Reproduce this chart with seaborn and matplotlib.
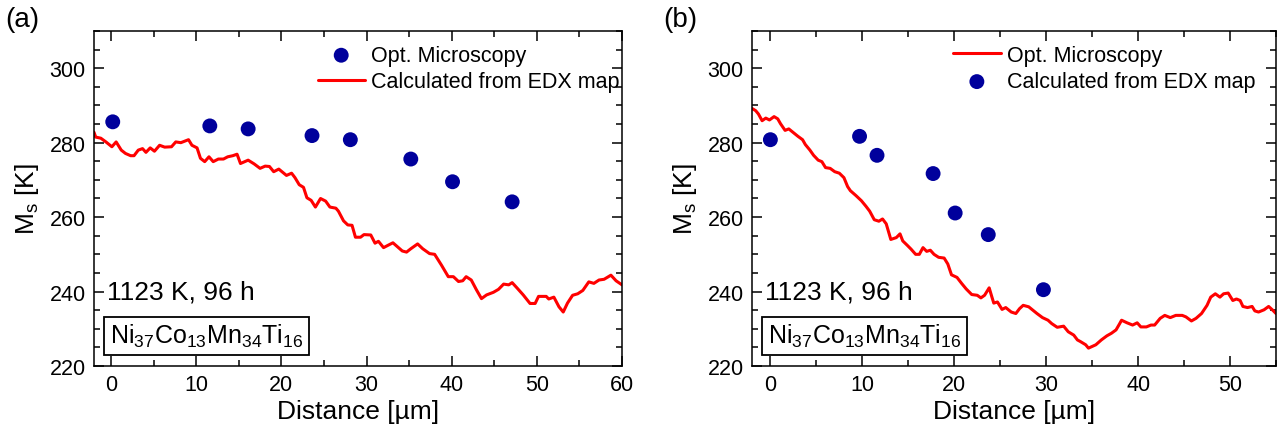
import numpy as np
import pandas as pd
import seaborn as sns
import matplotlib.pyplot as plt
from matplotlib.ticker import MultipleLocator

# Panel (a) - Ni37Co13Mn34Ti16, 1123 K 96 h
a_opt_dist = [0.2, 11.6, 16.1, 23.6, 28.1, 35.2, 40.1, 47.1]
a_opt_ms = [285.6, 284.5, 283.7, 281.9, 280.8, 275.6, 269.5, 264.1]

a_edx_dist = [-2.0, -1.8, -1.2, -0.6, 0.1, 0.6, 1.2, 1.7, 2.3, 2.7,
              3.2, 3.7, 4.1, 4.6, 5.1, 5.7, 6.3, 7.1, 7.6, 8.2,
              9.1, 9.5, 10.1, 10.5, 11.0, 11.5, 12.0, 12.6, 13.2, 13.7,
              14.3, 14.8, 15.2, 15.5, 16.1, 16.8, 17.5, 18.1, 18.6, 19.1,
              19.7, 20.6, 21.2, 21.6, 22.1, 22.6, 23.0, 23.5, 24.0, 24.6,
              25.2, 25.7, 26.4, 26.7, 27.3, 27.8, 28.3, 28.7, 29.3, 29.7,
              30.5, 31.0, 31.4, 32.0, 32.5, 33.1, 33.7, 34.2, 34.7, 35.2,
              36.0, 36.6, 37.4, 38.0, 38.8, 39.6, 40.2, 40.8, 41.3, 41.7,
              42.3, 42.9, 43.5, 44.1, 44.9, 45.5, 46.1, 46.7, 47.1, 47.7,
              48.4, 49.2, 49.8, 50.2, 51.1, 51.4, 52.0, 52.6, 53.1, 53.6,
              54.2, 54.8, 55.4, 56.1, 56.7, 57.3, 57.9, 58.7, 59.3, 60.0]
a_edx_ms = [282.8, 281.5, 281.2, 280.2, 278.9, 280.2, 278.0, 277.1, 276.5, 276.5,
            278.0, 278.4, 277.4, 278.6, 277.7, 279.3, 278.8, 278.9, 280.2, 280.0,
            280.8, 279.3, 278.6, 275.8, 274.9, 276.2, 274.9, 275.6, 275.6, 276.2,
            276.5, 276.9, 274.4, 274.7, 275.3, 274.3, 273.1, 273.7, 273.6, 272.2,
            272.9, 271.2, 271.8, 270.6, 268.7, 268.0, 265.2, 264.5, 262.7, 265.0,
            264.3, 262.7, 262.4, 261.6, 259.0, 257.9, 257.8, 254.6, 254.6, 255.3,
            255.2, 253.0, 253.5, 251.8, 252.4, 253.1, 251.9, 250.9, 250.6, 251.5,
            252.8, 251.5, 250.2, 250.0, 247.1, 244.0, 244.0, 242.7, 242.9, 244.0,
            243.1, 240.5, 238.1, 239.1, 239.8, 240.6, 242.0, 241.8, 242.4, 240.9,
            239.1, 236.8, 236.8, 238.7, 238.7, 238.0, 238.5, 235.9, 234.5, 236.9,
            239.0, 239.4, 240.3, 242.6, 242.2, 243.1, 243.3, 244.4, 242.9, 241.8]

# Panel (b)
b_pts_dist = [0.0, 9.7, 11.6, 17.7, 20.1, 23.7, 29.7]
b_pts_ms = [280.8, 281.7, 276.6, 271.7, 261.1, 255.3, 240.5]

b_line_dist = [-2.0, -1.6, -1.3, -0.9, -0.5, -0.1, 0.4, 0.8, 1.1, 1.6,
               2.0, 2.5, 3.0, 3.5, 3.8, 4.3, 4.7, 5.2, 5.6, 6.0,
               6.5, 7.0, 7.5, 8.0, 8.4, 8.7, 9.3, 9.9, 10.4, 10.8,
               11.3, 11.8, 12.2, 12.6, 13.1, 13.7, 14.1, 14.4, 14.9, 15.3,
               15.8, 16.2, 16.6, 17.0, 17.4, 17.8, 18.3, 18.9, 19.3, 19.7,
               20.3, 20.8, 21.3, 21.9, 22.5, 22.9, 23.3, 23.8, 24.1, 24.3,
               24.7, 25.2, 25.6, 26.2, 26.7, 27.1, 27.5, 28.1, 28.5, 29.0,
               29.6, 30.2, 30.6, 31.2, 31.9, 32.4, 33.0, 33.4, 33.7, 34.3,
               34.6, 35.4, 36.0, 36.6, 37.1, 37.6, 38.0, 38.2, 38.8, 39.4,
               39.9, 40.3, 40.9, 41.4, 41.8, 42.4, 42.9, 43.5, 44.1, 44.8,
               45.2, 45.8, 46.3, 46.9, 47.5, 47.9, 48.4, 48.9, 49.3, 49.8,
               50.3, 50.7, 51.1, 51.4, 51.9, 52.4, 52.7, 53.1, 53.7, 54.2,
               54.6, 55.0]
b_line_ms = [289.2, 288.6, 287.7, 285.9, 286.6, 286.1, 287.0, 286.4, 285.1, 283.3,
             283.7, 282.7, 281.7, 280.8, 279.5, 278.0, 276.6, 275.3, 274.9, 273.3,
             273.1, 272.2, 271.8, 270.6, 268.2, 267.1, 265.8, 264.4, 262.9, 261.6,
             259.3, 258.9, 259.5, 258.2, 254.0, 254.5, 255.5, 253.6, 252.4, 251.4,
             250.0, 250.0, 251.8, 250.8, 251.1, 250.0, 249.2, 249.0, 247.4, 244.5,
             243.8, 242.2, 240.7, 239.2, 239.0, 238.3, 239.0, 241.0, 238.5, 236.9,
             237.2, 235.2, 235.7, 234.5, 234.1, 235.4, 236.3, 235.9, 235.1, 234.1,
             233.0, 232.3, 231.4, 230.4, 230.7, 229.2, 228.3, 227.0, 226.6, 225.7,
             224.8, 225.7, 227.0, 228.1, 228.8, 229.7, 231.4, 232.3, 231.6, 231.0,
             231.6, 230.5, 230.5, 231.0, 231.0, 232.8, 233.6, 233.0, 233.6, 233.6,
             233.2, 232.1, 232.8, 234.1, 236.3, 238.5, 239.4, 238.5, 239.4, 239.6,
             237.6, 238.0, 237.6, 236.0, 235.7, 236.0, 234.8, 234.5, 235.1, 236.0,
             235.1, 234.1]

sns.set_style('ticks')
plt.rcParams['font.family'] = ['Liberation Sans', 'DejaVu Sans']
plt.rcParams['mathtext.default'] = 'regular'
plt.rcParams['text.color'] = 'black'
plt.rcParams['axes.labelcolor'] = 'black'
plt.rcParams['xtick.color'] = 'black'
plt.rcParams['ytick.color'] = 'black'
plt.rcParams['axes.edgecolor'] = 'black'

dot_color = '#00009c'
line_color = '#ff0000'
formula = r'Ni$_{37}$Co$_{13}$Mn$_{34}$Ti$_{16}$'

fig = plt.figure(figsize=(12.78, 4.35), dpi=100)
ax1 = fig.add_axes([94 / 1278, 68 / 435, 528 / 1278, 335 / 435])
ax2 = fig.add_axes([752 / 1278, 68 / 435, 524 / 1278, 335 / 435])

# (a): dots first in the legend
sns.scatterplot(x=a_opt_dist, y=a_opt_ms, ax=ax1, s=115, color=dot_color,
                edgecolor='none', label='Opt. Microscopy', zorder=3)
sns.lineplot(x=a_edx_dist, y=a_edx_ms, ax=ax1, color=line_color, lw=2.2,
             label='Calculated from EDX map')

# (b): labels are swapped in the original figure
sns.lineplot(x=b_line_dist, y=b_line_ms, ax=ax2, color=line_color, lw=2.2,
             label='Opt. Microscopy')
sns.scatterplot(x=b_pts_dist, y=b_pts_ms, ax=ax2, s=115, color=dot_color,
                edgecolor='none', label='Calculated from EDX map', zorder=3)

order = ['Opt. Microscopy', 'Calculated from EDX map']
for ax, xmax, leg_x in [(ax1, 60, 1.0), (ax2, 55, 0.965)]:
    ax.set_xlim(-2, xmax)
    ax.set_ylim(220, 310)
    ax.xaxis.set_major_locator(MultipleLocator(10))
    ax.xaxis.set_minor_locator(MultipleLocator(5))
    ax.yaxis.set_major_locator(MultipleLocator(20))
    ax.yaxis.set_minor_locator(MultipleLocator(5))
    ax.tick_params(which='both', direction='in', top=True, right=True,
                   width=1.1, labelsize=15.5, pad=6)
    ax.tick_params(which='major', length=7)
    ax.tick_params(which='minor', length=4)
    for sp in ax.spines.values():
        sp.set_linewidth(1.1)
    ax.set_xlabel('Distance [µm]', fontsize=19, labelpad=3)
    ax.set_ylabel('M$_s$ [K]', fontsize=19, labelpad=6)

    handles, labels = ax.get_legend_handles_labels()
    hmap = dict(zip(labels, handles))
    ax.legend([hmap[l] for l in order], order, loc='upper right',
              bbox_to_anchor=(leg_x, 0.965), frameon=False, fontsize=15.5,
              handlelength=2.2, handletextpad=0.3, labelspacing=0.25,
              borderpad=0.0, borderaxespad=0.1)

    ax.text(0.025, 0.222, '1123 K, 96 h', transform=ax.transAxes,
            fontsize=19, ha='left', va='center')
    ax.text(0.03, 0.05, formula, transform=ax.transAxes, fontsize=18,
            ha='left', va='bottom',
            bbox=dict(boxstyle='square,pad=0.22', facecolor='white',
                      edgecolor='black', linewidth=1.3))

fig.text(0.004, 0.955, '(a)', fontsize=20, ha='left', va='center')
fig.text(0.519, 0.955, '(b)', fontsize=20, ha='left', va='center')

fig.savefig('out.png', dpi=100)
